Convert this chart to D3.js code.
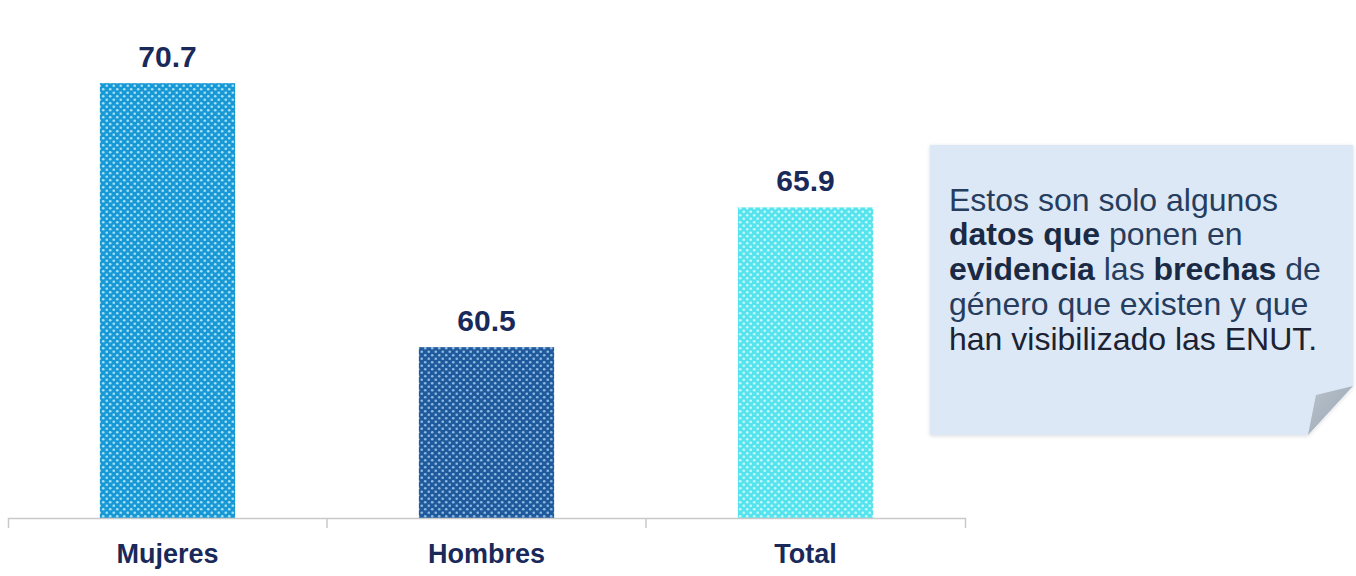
<!DOCTYPE html>
<html>
<head>
<meta charset="utf-8">
<script src="https://cdn.jsdelivr.net/npm/d3@7"></script>
<style>
  body { margin: 0; background: #fff; }
  svg { display: block; font-family: "Liberation Sans", Arial, sans-serif; }
</style>
</head>
<body>
<div id="chart"></div>
<script>
let categorias = ["Mujeres", "Hombres", "Total"];
let valores = [70.7, 60.5, 65.9];
let etiquetas = ["70.7", "60.5", "65.9"];
let colores = ["#1899d5", "#1f5a9c", "#55e4ee"];
let puntos = ["#a6e0f6", "#8fb9e2", "#c8f8fa"];

// texto del recuadro: cada linea es una lista de [texto, negrita]
let nota = [
    [["Estos son solo algunos", false]],
    [["datos que", true], [" ponen en", false]],
    [["evidencia", true], [" las ", false], ["brechas", true], [" de", false]],
    [["género que existen y que", false]],
    [["han visibilizado", false], [" las ENUT.", false]]
];

let larg = 1356;
let alt = 576;

let canvas = d3.select("#chart")
                .append("svg")
                .attr("width", larg)
                .attr("height", alt);

let defs = canvas.append("defs");

// patron de puntos para cada barra
categorias.forEach(function(c, i) {
    let p = defs.append("pattern")
                .attr("id", "pt" + i)
                .attr("width", 7)
                .attr("height", 7)
                .attr("patternUnits", "userSpaceOnUse");
    p.append("rect").attr("width", 7).attr("height", 7).attr("fill", colores[i]);
    p.append("circle").attr("cx", 1.75).attr("cy", 1.75).attr("r", 1.3).attr("fill", puntos[i]);
    p.append("circle").attr("cx", 5.25).attr("cy", 5.25).attr("r", 1.3).attr("fill", puntos[i]);
});

let sombra = defs.append("filter").attr("id", "sombra")
                .attr("x", "-5%").attr("y", "-5%").attr("width", "110%").attr("height", "110%");
sombra.append("feGaussianBlur").attr("in", "SourceAlpha").attr("stdDeviation", 2);
sombra.append("feOffset").attr("dx", 0).attr("dy", 1).attr("result", "b");
sombra.append("feComponentTransfer").append("feFuncA").attr("type", "linear").attr("slope", 0.15);
let mg = sombra.append("feMerge");
mg.append("feMergeNode");
mg.append("feMergeNode").attr("in", "SourceGraphic");

// escalas
let x = d3.scaleBand()
            .domain(categorias)
            .range([8, 965])
            .padding(0);

let anchoBarra = x.bandwidth() * 0.424;

let y = d3.scaleLinear()
            .domain([53.9, 72])
            .range([518, 49.5]);

let datos = categorias.map((c, i) => ({cat: c, val: valores[i], lab: etiquetas[i], i: i}));

canvas.selectAll("rect.barra")
        .data(datos)
        .enter()
            .append("rect")
            .attr("class", "barra")
            .attr("x", d => x(d.cat) + (x.bandwidth() - anchoBarra) / 2)
            .attr("width", anchoBarra)
            .attr("y", d => y(d.val))
            .attr("height", d => y.range()[0] - y(d.val))
            .attr("fill", d => "url(#pt" + d.i + ")");

canvas.selectAll("text.valor")
        .data(datos)
        .enter()
            .append("text")
            .attr("class", "valor")
            .attr("x", d => x(d.cat) + x.bandwidth() / 2)
            .attr("y", d => y(d.val) - 16)
            .attr("text-anchor", "middle")
            .style("font-size", "30px")
            .style("font-weight", "bold")
            .attr("fill", "#19295a")
            .text(d => d.lab);

// eje inferior
let eje = canvas.append("g")
        .attr("transform", "translate(0," + y.range()[0] + ")")
        .call(d3.axisBottom(x).tickSize(0).tickSizeOuter(10).tickPadding(26));

eje.select(".domain").attr("stroke", "#c9c9c9").attr("stroke-width", 1.5);
eje.selectAll("text")
    .style("font-size", "27px")
    .style("font-weight", "bold")
    .style("font-family", "'Liberation Sans', Arial, sans-serif")
    .attr("fill", "#19295a");

// marcas entre categorias
eje.selectAll("line.sep")
    .data(categorias.slice(1))
    .enter()
        .append("line")
        .attr("class", "sep")
        .attr("x1", d => x(d))
        .attr("x2", d => x(d))
        .attr("y1", 0)
        .attr("y2", 10)
        .attr("stroke", "#c9c9c9")
        .attr("stroke-width", 1.5);

// recuadro con esquina doblada
let caja = {x0: 930, y0: 145, x1: 1353, y1: 435};
let caja_g = canvas.append("g");
caja_g.append("path")
    .attr("d", "M" + caja.x0 + "," + caja.y0 +
               " L" + caja.x1 + "," + caja.y0 +
               " L" + caja.x1 + "," + (caja.y1 - 49) +
               " L" + (caja.x1 - 45) + "," + caja.y1 +
               " L" + caja.x0 + "," + caja.y1 + " Z")
    .attr("fill", "#dce8f5")
    .attr("filter", "url(#sombra)");

let grad = defs.append("linearGradient").attr("id", "doblez")
            .attr("x1", "0%").attr("y1", "0%").attr("x2", "100%").attr("y2", "100%");
grad.append("stop").attr("offset", "0%").attr("stop-color", "#b9c2cc");
grad.append("stop").attr("offset", "100%").attr("stop-color", "#9aa6b3");

caja_g.append("path")
    .attr("d", "M" + caja.x1 + "," + (caja.y1 - 49) +
               " L" + (caja.x1 - 37) + "," + (caja.y1 - 40) +
               " L" + (caja.x1 - 45) + "," + caja.y1 + " Z")
    .attr("fill", "url(#doblez)");

let txt = caja_g.append("text")
    .style("font-size", "32px");

nota.forEach(function(linea, i) {
    let l = txt.append("tspan")
        .attr("x", 949)
        .attr("y", 210.5 + i * 34.8);
    linea.forEach(function(seg) {
        l.append("tspan")
            .style("font-weight", seg[1] ? "bold" : "normal")
            .attr("fill", seg[1] ? "#1b2a44" : (i == 4 ? "#1c2233" : "#263d5e"))
            .text(seg[0]);
    });
});
</script>
</body>
</html>
